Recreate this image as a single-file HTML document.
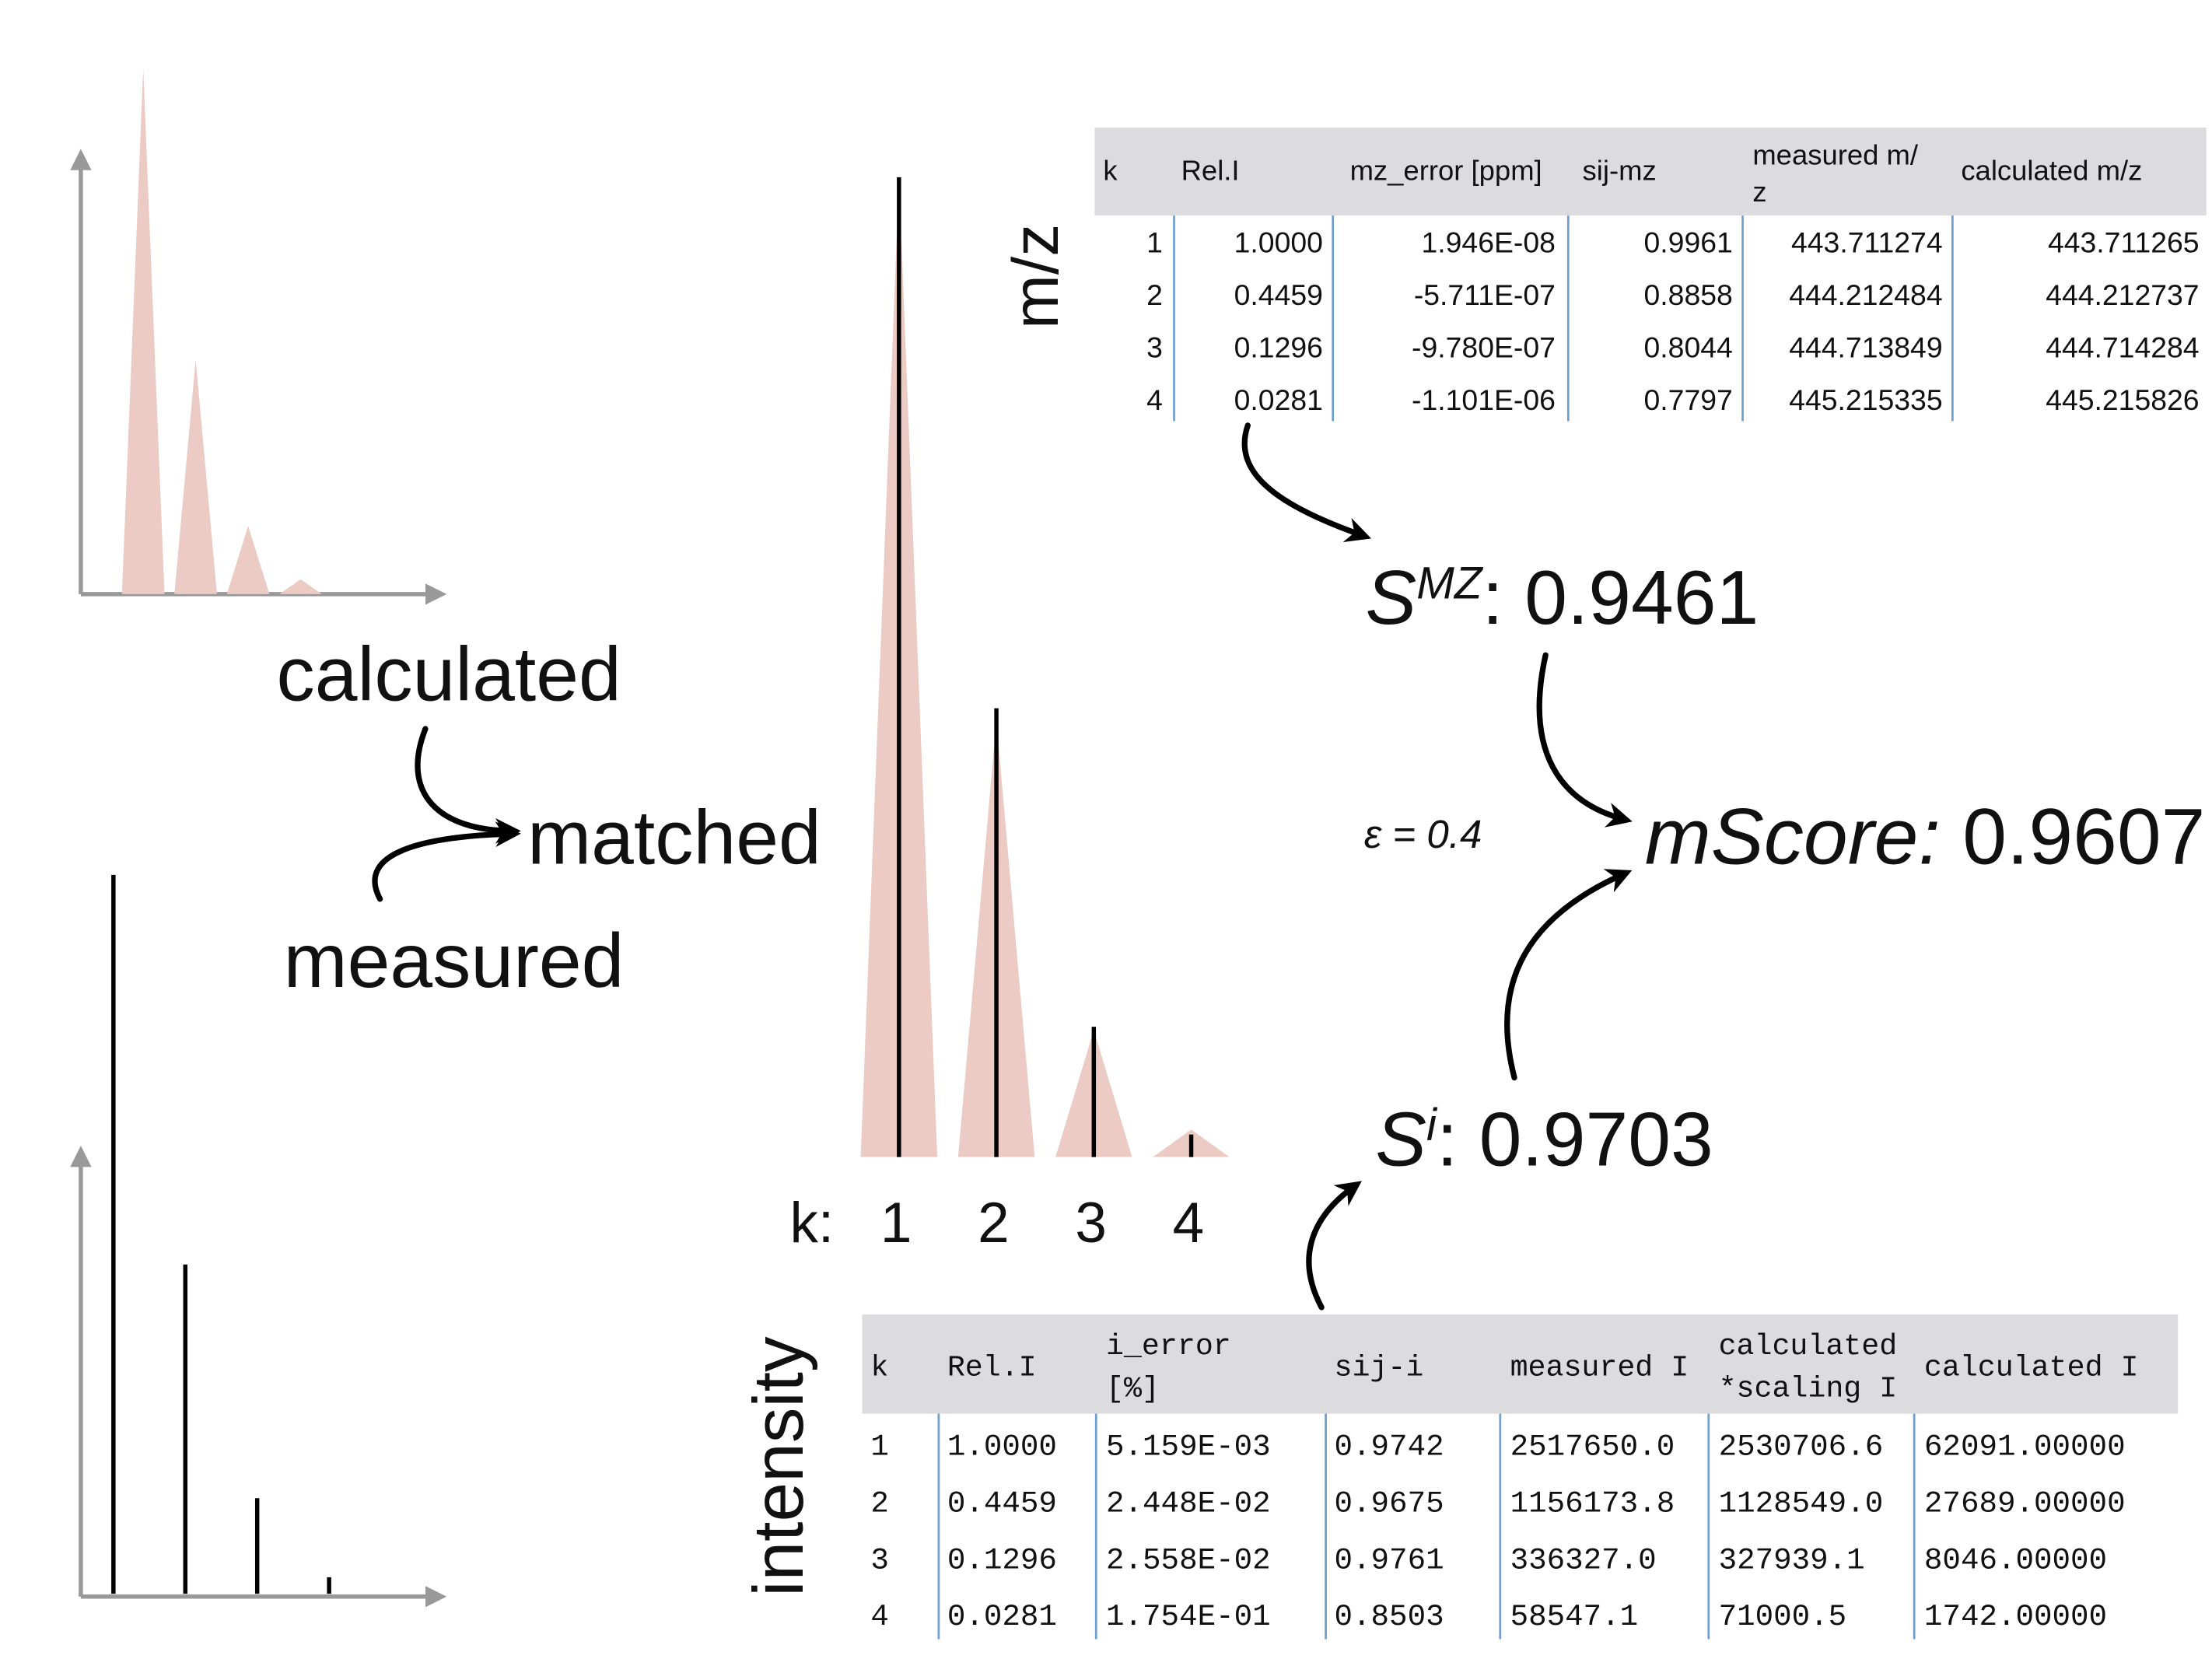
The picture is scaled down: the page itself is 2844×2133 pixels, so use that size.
<!DOCTYPE html>
<html><head><meta charset="utf-8"><style>
html,body{margin:0;padding:0;background:#fff;}
svg{display:block;}
.sans{font-family:"Liberation Sans",sans-serif;}
.mono{font-family:"Liberation Mono","DejaVu Sans Mono",monospace;}
</style></head><body>
<svg id="fig" width="2844" height="2133" viewBox="0 0 1560 1170" xmlns="http://www.w3.org/2000/svg">
<defs>
<marker id="ah" viewBox="0 0 10 10" refX="7" refY="5" markerWidth="4.5" markerHeight="4.5" orient="auto"><path d="M0,0 L10,5 L0,10 L3,5 Z" fill="#000"/></marker>
<marker id="ga" viewBox="0 0 10 10" refX="8" refY="5" markerWidth="5" markerHeight="5" orient="auto"><path d="M0,0 L10,5 L0,10 Z" fill="#999"/></marker>
</defs>
<g id="calc-chart"></g>
<g id="meas-chart"></g>
<g id="match-chart"></g>

<g class="sans" font-weight="300" fill="#111">
<text x="195" y="494" font-size="54">calculated</text>
<text x="372" y="609" font-size="54">matched</text>
<text x="200" y="696" font-size="54">measured</text>
<text x="557" y="876" font-size="40">k:</text>
<text transform="translate(746,232) rotate(-90)" font-size="46">m/z</text>
<text transform="translate(566,1126) rotate(-90)" font-size="50">intensity</text>
<text x="963" y="440" font-size="54"><tspan font-style="italic">S</tspan><tspan font-size="32" dy="-18" font-style="italic">MZ</tspan><tspan dy="18">: 0.9461</tspan></text>
<text x="970" y="822" font-size="54"><tspan font-style="italic">S</tspan><tspan font-size="32" dy="-18" font-style="italic">i</tspan><tspan dy="18">: 0.9703</tspan></text>
<text x="1160" y="609" font-size="56"><tspan font-style="italic">mScore:</tspan> 0.9607</text>
<text x="962" y="598" font-size="28" font-style="italic">ε = 0.4</text>
</g>

<g fill="none" stroke="#000" stroke-width="4" stroke-linecap="round">
<path d="M300,514 C282,560 310,586 362,586" marker-end="url(#ah)"/>
<path d="M268,634 C252,604 290,590 362,588" marker-end="url(#ah)"/>
<path d="M880,300 C868,335 905,358 962,378" marker-end="url(#ah)"/>
<path d="M1090,462 C1075,530 1100,566 1146,578" marker-end="url(#ah)"/>
<path d="M1068,760 C1050,690 1080,645 1146,616" marker-end="url(#ah)"/>
<path d="M932,922 C915,890 922,860 956,836" marker-end="url(#ah)"/>
</g>

<g id="mz-table" class="sans"></g>
<g id="int-table" class="mono"></g>

<script>
const NS='http://www.w3.org/2000/svg';
const kLabels=['1','2','3','4'];
const relI=[1.0,0.4459,0.1296,0.0281];
const measRel=[1.0,0.458,0.133,0.023];
const mzHead=[['k'],['Rel.I'],['mz_error [ppm]'],['sij-mz'],['measured m/','z'],['calculated m/z']];
const mzRows=[
['1','1.0000','1.946E-08','0.9961','443.711274','443.711265'],
['2','0.4459','-5.711E-07','0.8858','444.212484','444.212737'],
['3','0.1296','-9.780E-07','0.8044','444.713849','444.714284'],
['4','0.0281','-1.101E-06','0.7797','445.215335','445.215826']];
const iHead=[['k'],['Rel.I'],[' i_error','[%]'],['  sij-i'],['measured I'],['calculated','*scaling I'],['calculated I']];
const iRows=[
['1','1.0000','5.159E-03','0.9742','2517650.0','2530706.6','62091.00000'],
['2','0.4459','2.448E-02','0.9675','1156173.8','1128549.0','27689.00000'],
['3','0.1296','2.558E-02','0.9761','336327.0','327939.1','8046.00000'],
['4','0.0281','1.754E-01','0.8503','58547.1','71000.5','1742.00000']];

function mk(tag,attrs,parent){const e=document.createElementNS(NS,tag);for(const k in attrs)e.setAttribute(k,attrs[k]);parent.appendChild(e);return e;}
const PINK='#ebcbc3';

// calculated chart
(function(){
 const g=document.getElementById('calc-chart');
 const base=419,top=48,x0=101,dx=37,hw=15;
 const y=v=>base-(base-top)*v;
 const ax=mk('path',{d:'M57,419 V108',stroke:'#999','stroke-width':3,fill:'none','marker-end':'url(#ga)'},g);
 
 
 const bx=mk('path',{d:'M57,419 H312',stroke:'#999','stroke-width':3,fill:'none','marker-end':'url(#ga)'},g);
 
 
 relI.forEach((v,i)=>{const c=x0+dx*i;
  const p=mk('polygon',{points:`${c-hw},${base} ${c},${y(v)} ${c+hw},${base}`,fill:PINK},g);
  
  });
})();

// measured chart
(function(){
 const g=document.getElementById('meas-chart');
 const base=1124,top=617,x0=80,dx=50.7;
 const y=v=>base-(base-top)*v;
 const ax=mk('path',{d:'M57,1126 V811',stroke:'#999','stroke-width':3,fill:'none','marker-end':'url(#ga)'},g);
 
 
 const bx=mk('path',{d:'M57,1126 H312',stroke:'#999','stroke-width':3,fill:'none','marker-end':'url(#ga)'},g);
 
 
 measRel.forEach((v,i)=>{const c=x0+dx*i;
  const l=mk('line',{x1:c,x2:c,y1:base,y2:y(v),stroke:'#000','stroke-width':3},g);
  
  });
})();

// matched chart
(function(){
 const g=document.getElementById('match-chart');
 const base=816,top=125,x0=634,dx=68.7,hw=27;
 const y=v=>base-(base-top)*v;
 relI.forEach((v,i)=>{const c=x0+dx*i;
  const p=mk('polygon',{points:`${c-hw},${base} ${c},${y(v)} ${c+hw},${base}`,fill:PINK},g);
  
  });
 measRel.forEach((v,i)=>{const c=x0+dx*i;
  const l=mk('line',{x1:c,x2:c,y1:base,y2:y(v),stroke:'#000','stroke-width':3},g);
  
  });
 kLabels.forEach((k,i)=>{const t=mk('text',{x:x0+dx*i-2,y:876,'font-size':40,'text-anchor':'middle','font-family':'Liberation Sans','font-weight':300,fill:'#111'},g);t.textContent=k;
  
  });
})();

// mz table
(function(){
 const g=document.getElementById('mz-table');
 const r=mk('rect',{x:772,y:90,width:784,height:62,fill:'#dcdcde'},g);
 
 
 const divs=[828,940,1106,1229,1377];
 divs.forEach(x=>{const l=mk('line',{x1:x,x2:x,y1:152,y2:297,stroke:'#6f9fcf','stroke-width':1.5},g);
  
  });
 const hx=[778,833,952,1116,1236,1383];
 mzHead.forEach((h,i)=>{h.forEach((s,j)=>{const t=mk('text',{x:hx[i],y:h.length>1?116+26*j:127,'font-size':20,fill:'#111'},g);t.textContent=s;
  
  });});
 const rx=[820,933,1097,1222,1370,1551];
 mzRows.forEach((row,ri)=>row.forEach((s,ci)=>{const t=mk('text',{x:rx[ci],y:178+37*ri,'font-size':20.5,'text-anchor':'end',fill:'#111'},g);t.textContent=s;
  
  }));
})();

// intensity table
(function(){
 const g=document.getElementById('int-table');
 const r=mk('rect',{x:608,y:927,width:928,height:70,fill:'#dcdcde'},g);
 
 
 const divs=[662,773,935,1058,1205,1350];
 divs.forEach(x=>{const l=mk('line',{x1:x,x2:x,y1:997,y2:1156,stroke:'#6f9fcf','stroke-width':1.5},g);
  
  });
 const hx=[614,668,780,941,1065,1212,1357];
 iHead.forEach((h,i)=>{h.forEach((s,j)=>{const t=mk('text',{x:hx[i],y:h.length>1?955+30*j:970,'font-size':21,fill:'#111','xml:space':'preserve'},g);t.textContent=s;
  
  });});
 const cx=[614,668,780,941,1065,1212,1357];
 iRows.forEach((row,ri)=>row.forEach((s,ci)=>{const t=mk('text',{x:cx[ci],y:1026+40*ri,'font-size':21.5,fill:'#111'},g);t.textContent=s;
  
  }));
})();
</script>
</svg>
</body></html>
